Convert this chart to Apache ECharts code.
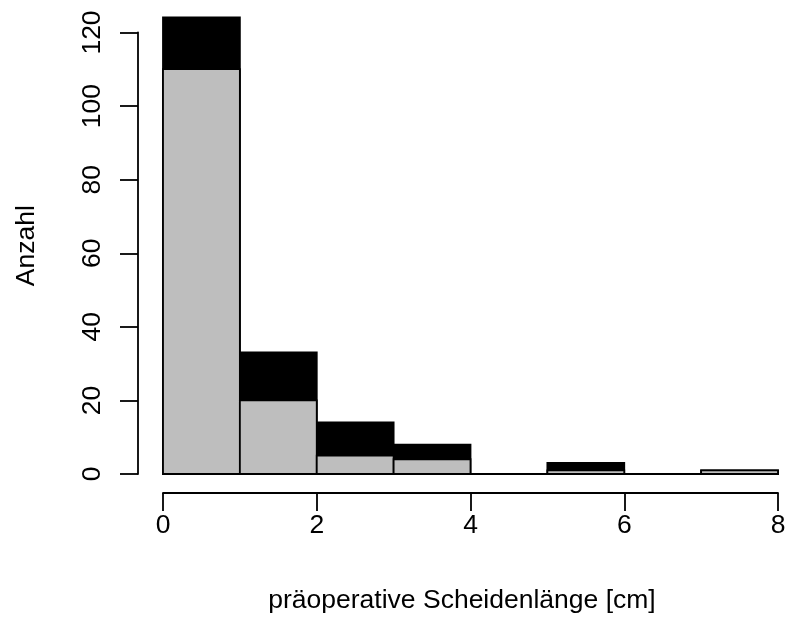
<!DOCTYPE html>
<html>
<head>
<meta charset="utf-8">
<script src="https://cdn.jsdelivr.net/npm/echarts@6/dist/echarts.min.js"></script>
<style>
  html, body { margin: 0; padding: 0; background: #fff; }
  #chart { width: 787px; height: 635px; }
</style>
</head>
<body>
<div id="chart"></div>
<script>
// Klassen (linke Grenze, Breite 1 cm)
var binStart = [0, 1, 2, 3, 4, 5, 6, 7];
// alle Fälle (schwarz)
var countAll = [124, 33, 14, 8, 0, 3, 0, 1];
// Teilgruppe (grau)
var countSub = [110, 20, 5, 4, 0, 1, 0, 1];
var xTicks = [0, 2, 4, 6, 8];
var yTicks = [0, 20, 40, 60, 80, 100, 120];

var font = "Liberation Sans, Arial, Helvetica, sans-serif";
var fs = 26.5;

function toData(counts) {
  return binStart.map(function (s, i) {
    return [s, counts[i]];
  });
}

function histBar(fill) {
  return function (params, api) {
    var x0 = api.value(0);
    var p0 = api.coord([x0, 0]);
    var p1 = api.coord([x0 + 1, api.value(1)]);
    return {
      type: "rect",
      shape: { x: p0[0], y: p1[1], width: p1[0] - p0[0], height: p0[1] - p1[1] },
      style: { fill: fill, stroke: "#000", lineWidth: 1.8 },
    };
  };
}

var myChart = echarts.init(document.getElementById("chart"));
var option = {
  animation: false,
  backgroundColor: "#fff",
  title: {
    text: "präoperative Scheidenlänge [cm]",
    left: 457,
    top: 582,
    textAlign: "center",
    textStyle: { fontFamily: font, fontSize: fs, fontWeight: "normal", color: "#000" },
  },
  grid: [
    // Zeichenfläche
    { left: 163, right: 9, top: 17.5, bottom: 161, outerBoundsMode: "none" },
    // y-Achse (abgesetzt)
    { left: 138, width: 10, top: 32.5, bottom: 161, outerBoundsMode: "none" },
    // x-Achse (abgesetzt)
    { left: 163, right: 9, top: 300, bottom: 142, outerBoundsMode: "none" },
  ],
  xAxis: [
    { gridIndex: 0, type: "value", min: 0, max: 8, show: false },
    { gridIndex: 1, type: "value", min: 0, max: 1, show: false },
    {
      gridIndex: 2,
      type: "value",
      min: 0,
      max: 8,
      interval: 2,
      position: "bottom",
      axisLine: { show: true, lineStyle: { color: "#000", width: 1.8 } },
      axisTick: { show: true, inside: false, length: 18, lineStyle: { color: "#000", width: 1.8 } },
      axisLabel: {
        margin: 19,
        color: "#000",
        fontFamily: font,
        fontSize: fs,
        formatter: function (v) {
          return xTicks.indexOf(v) >= 0 ? String(v) : "";
        },
      },
      splitLine: { show: false },
    },
  ],
  yAxis: [
    {
      gridIndex: 0,
      type: "value",
      min: 0,
      max: 124,
      name: "Anzahl",
      nameLocation: "middle",
      nameRotate: 90,
      nameGap: 123,
      nameTextStyle: { fontFamily: font, fontSize: fs, color: "#000" },
      axisLine: { show: false },
      axisTick: { show: false },
      axisLabel: { show: false },
      splitLine: { show: false },
    },
    {
      gridIndex: 1,
      type: "value",
      min: 0,
      max: 120,
      interval: 20,
      position: "left",
      axisLine: { show: true, lineStyle: { color: "#000", width: 1.8 } },
      axisTick: { show: true, inside: false, length: 18, lineStyle: { color: "#000", width: 1.8 } },
      axisLabel: {
        rotate: 90,
        margin: 32,
        color: "#000",
        fontFamily: font,
        fontSize: fs,
        formatter: function (v) {
          return yTicks.indexOf(v) >= 0 ? String(v) : "";
        },
      },
      splitLine: { show: false },
    },
    { gridIndex: 2, type: "value", min: 0, max: 1, show: false },
  ],
  series: [
    {
      type: "custom",
      xAxisIndex: 0,
      yAxisIndex: 0,
      renderItem: histBar("#000000"),
      encode: { x: 0, y: 1 },
      data: toData(countAll),
    },
    {
      type: "custom",
      xAxisIndex: 0,
      yAxisIndex: 0,
      renderItem: histBar("#BEBEBE"),
      encode: { x: 0, y: 1 },
      data: toData(countSub),
    },
  ],
};
option && myChart.setOption(option);
</script>
</body>
</html>
